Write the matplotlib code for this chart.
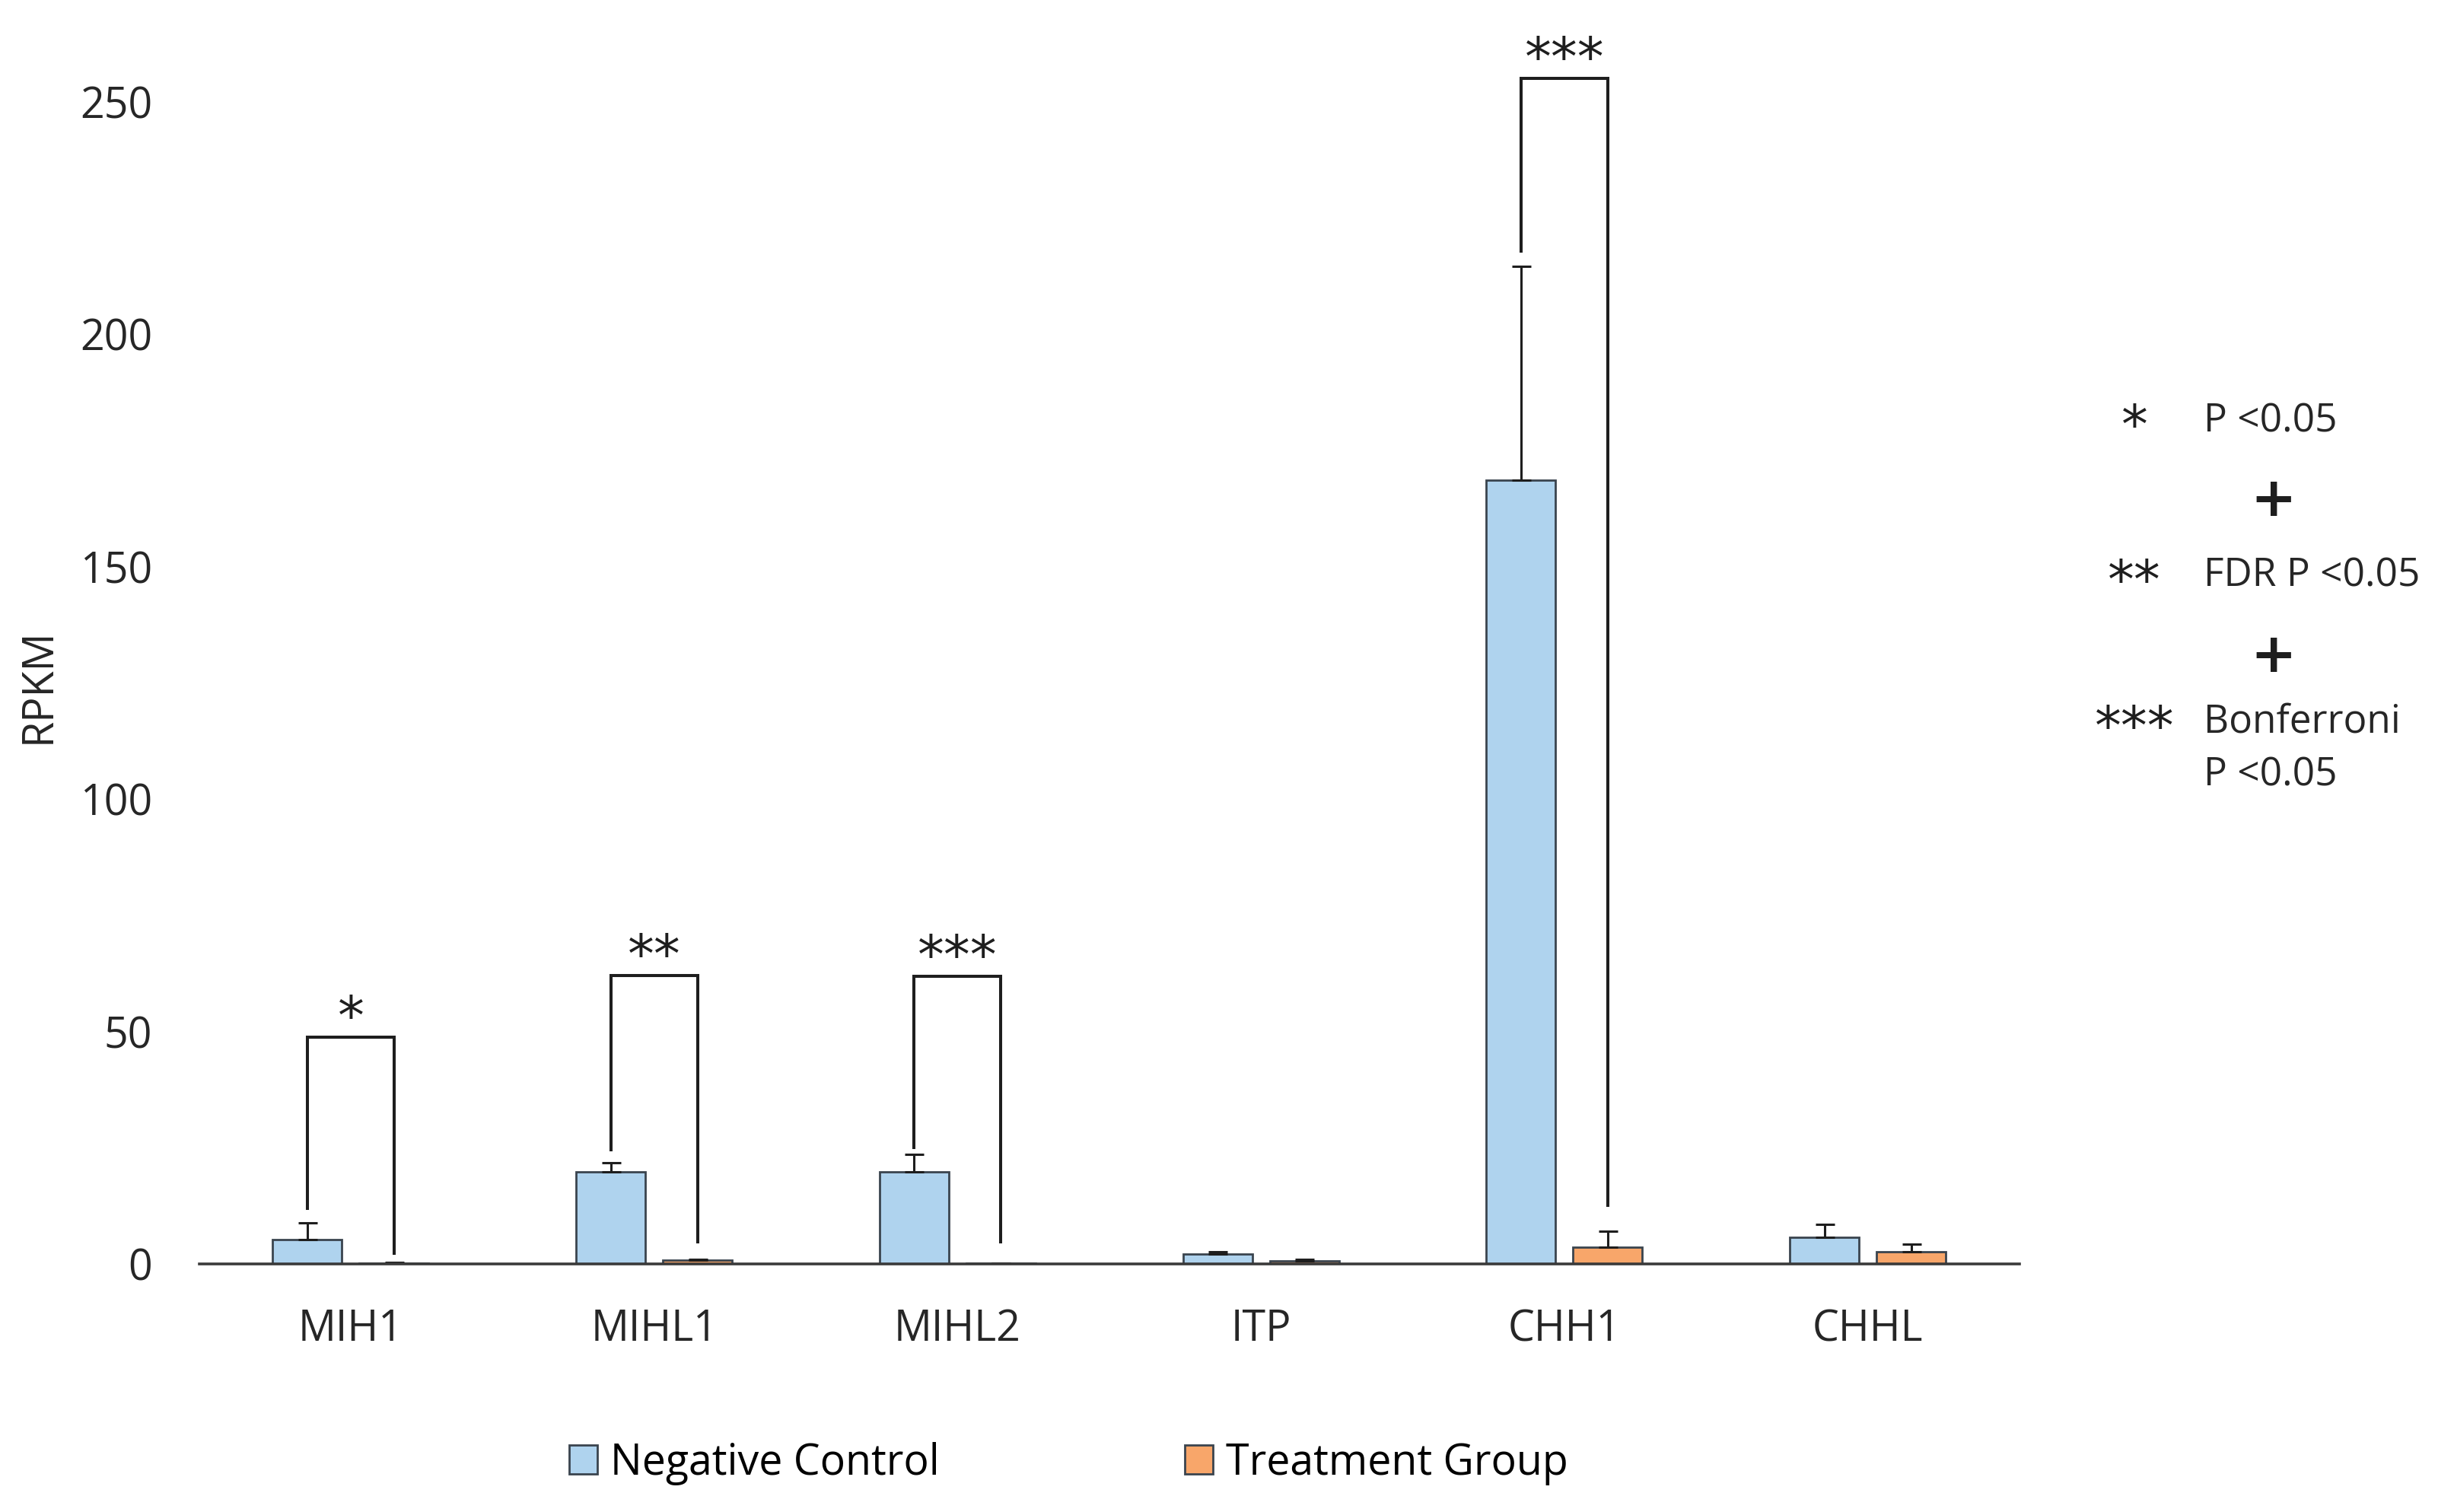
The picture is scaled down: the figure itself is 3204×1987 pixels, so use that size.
import numpy as np
import matplotlib
matplotlib.use('Agg')
import matplotlib.pyplot as plt

plt.rcParams['font.family'] = ['Open Sans', 'DejaVu Sans']

categories = ['MIH1', 'MIHL1', 'MIHL2', 'ITP', 'CHH1', 'CHHL']
neg_control = [5.2, 19.8, 19.8, 2.1, 168.6, 5.7]
neg_err = [3.6, 1.9, 3.8, 0.5, 46.1, 2.8]
treatment = [0.2, 0.75, 0.1, 0.6, 3.6, 2.6]
treat_err = [0.1, 0.3, 0.05, 0.3, 3.4, 1.6]
series_names = ['Negative Control', 'Treatment Group']
yticks = [0, 50, 100, 150, 200, 250]

# significance brackets: label, top, left foot, right foot (RPKM)
sig_labels = ['*', '**', '***', None, '***', None]
sig_top = [48.7, 62.0, 61.9, None, 255.1, None]
sig_left = [11.9, 24.6, 25.0, None, 217.9, None]
sig_right = [2.3, 4.7, 4.7, None, 12.6, None]

key_stars = ['*', '**', '***']
key_texts = [['P <0.05'], ['FDR P <0.05'], ['Bonferroni', 'P <0.05']]

blue = '#AFD3EE'
orange = '#F8A66A'
edge = '#3a444e'
dark = '#1e1e1e'
fs = 40

fig = plt.figure(figsize=(32.05, 19.87), dpi=100)
ax = fig.add_axes([0.0816, 0.1641, 0.7465, 0.830])

x = np.arange(len(categories))
off = 0.143
w = 0.228
b1 = ax.bar(x - off, neg_control, w, color=blue, edgecolor=edge, linewidth=2.0, label=series_names[0])
b2 = ax.bar(x + off, treatment, w, color=orange, edgecolor=edge, linewidth=2.0, label=series_names[1])
ax.errorbar(x - off, neg_control, yerr=[np.zeros(len(x)), neg_err], fmt='none',
            ecolor=dark, elinewidth=2.2, capsize=9, capthick=2.2)
ax.errorbar(x + off, treatment, yerr=[np.zeros(len(x)), treat_err], fmt='none',
            ecolor=dark, elinewidth=2.2, capsize=9, capthick=2.2)

for i, lab in enumerate(sig_labels):
    if lab is None:
        continue
    xl, xr = x[i] - off, x[i] + off
    ax.plot([xl, xl, xr, xr], [sig_left[i], sig_top[i], sig_top[i], sig_right[i]],
            color=dark, lw=2.9, clip_on=False, solid_joinstyle='miter')
    ax.annotate(lab, xy=(x[i], sig_top[i]), xytext=(0, 3), textcoords='offset points',
                ha='center', va='baseline', fontsize=50, family='DejaVu Sans',
                color=dark, annotation_clip=False)

ax.set_xlim(-0.5, len(categories) - 0.5)
ax.set_ylim(0, 270)
ax.set_yticks(yticks)
ax.set_xticks(x)
ax.set_xticklabels(categories)
ax.tick_params(axis='both', length=0, labelsize=fs, colors='#262626')
ax.tick_params(axis='y', pad=44)
ax.tick_params(axis='x', pad=42)
for s in ['top', 'right', 'left']:
    ax.spines[s].set_visible(False)
ax.spines['bottom'].set_linewidth(2.6)
ax.spines['bottom'].set_color('#3a3a3a')

fig.text(51 / 3205, 1 - 901 / 1987, 'RPKM', rotation=90, ha='center', va='center',
         fontsize=fs, color='#262626')

# legend at bottom, one entry each
for bar, xpos in [(b1, 748), (b2, 1557)]:
    fig.legend(handles=[bar], loc='center left', bbox_to_anchor=(xpos / 3205, 64 / 1987),
               frameon=False, fontsize=fs, handlelength=0.66, handleheight=0.66,
               handletextpad=0.32, borderpad=0, borderaxespad=0)

# significance key on the right
key_y = [556, 759, 951]
for star, lines, yy in zip(key_stars, key_texts, key_y):
    fig.text(2805 / 3205, 1 - yy / 1987, star, ha='center', va='center_baseline',
             fontsize=50, family='DejaVu Sans', color=dark)
    for j, txt in enumerate(lines):
        fig.text(2896 / 3205, 1 - (yy - 2 + 70 * j) / 1987, txt, ha='left', va='center',
                 fontsize=37, color='#262626')
for yy in [651, 856]:
    fig.text(2988 / 3205, 1 - yy / 1987, '+', ha='center', va='center_baseline',
             fontsize=52, fontweight='bold', family='DejaVu Sans', color=dark)

fig.savefig('out.png', dpi=100, facecolor='white')
